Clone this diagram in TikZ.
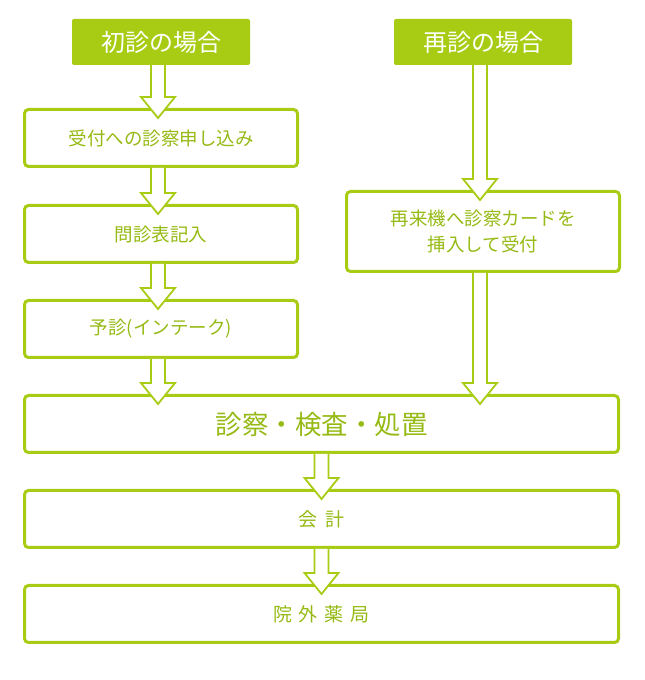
\documentclass[tikz,border=0pt]{standalone}
\usepackage{fontspec}
\setmainfont{Noto Sans CJK JP}
\usetikzlibrary{calc,shadows}

\definecolor{leaf}{HTML}{A8CC14}
\definecolor{leaftext}{HTML}{96BA14}

% hollow block arrow from the bottom of one node into the top of the next
% (optional argument: sideways shift of the arrow against the source centre)
\newcommand{\flowarrow}[3][-3pt]{%
  \filldraw[hollowarrow] let \p1=($(#2.south)+(#1,0)$), \p2=(#3.north) in
    (\x1-7pt,\y1) -- (\x1-7pt,\y2+11pt) -- (\x1-17pt,\y2+11pt) -- (\x1,\y2-10pt)
    -- (\x1+17pt,\y2+11pt) -- (\x1+7pt,\y2+11pt) -- (\x1+7pt,\y1);
}

\begin{document}
\begin{tikzpicture}[x=1pt, y=1pt,
    header/.style={fill=leaf, rounded corners=2pt, minimum width=178pt, minimum height=46pt,
                   text=white, font=\fontsize{24}{28}\selectfont},
    stepbox/.style={draw=leaf, line width=3pt, fill=white, rounded corners=4pt,
                    minimum width=273pt, minimum height=57pt, text=leaftext,
                    font=\fontsize{18.5}{26}\selectfont, align=center,
                    drop shadow={opacity=0.12, shadow xshift=1pt, shadow yshift=-1.5pt}},
    widebox/.style={stepbox, minimum width=594pt},
    hollowarrow/.style={draw=leaf, line width=1.8pt, fill=white, line join=miter}]
  \useasboundingbox (0,0) rectangle (645,680);

  % first visit
  \node[header] (first) at (161,638) {初診の場合};
  \node[stepbox] (apply) at (161,542) {受付への診察申し込み};
  \node[stepbox] (sheet) at (161,446) {問診表記入};
  \node[stepbox] (intake) at (161,351) {予診(インテーク)};

  % return visit
  \node[header] (second) at (483,638) {再診の場合};
  \node[stepbox, minimum height=80pt] (card) at (483,448.5) {再来機へ診察カードを\\挿入して受付};

  % common steps
  \node[widebox, font=\fontsize{26.5}{30}\selectfont] (exam) at (321.5,256) {診察・検査・処置};
  \node[widebox, font=\fontsize{19}{24}\selectfont] (pay) at (321.5,161) {会\hspace{8pt}計};
  \node[widebox, font=\fontsize{19}{24}\selectfont] (pharmacy) at (321.5,66)
    {院\hspace{7pt}外\hspace{7pt}薬\hspace{7pt}局};

  \flowarrow{first}{apply}
  \flowarrow{apply}{sheet}
  \flowarrow{sheet}{intake}
  \flowarrow{intake}{exam}
  \flowarrow{second}{card}
  \flowarrow{card}{exam}
  \flowarrow[0pt]{exam}{pay}
  \flowarrow[0pt]{pay}{pharmacy}
\end{tikzpicture}
\end{document}
